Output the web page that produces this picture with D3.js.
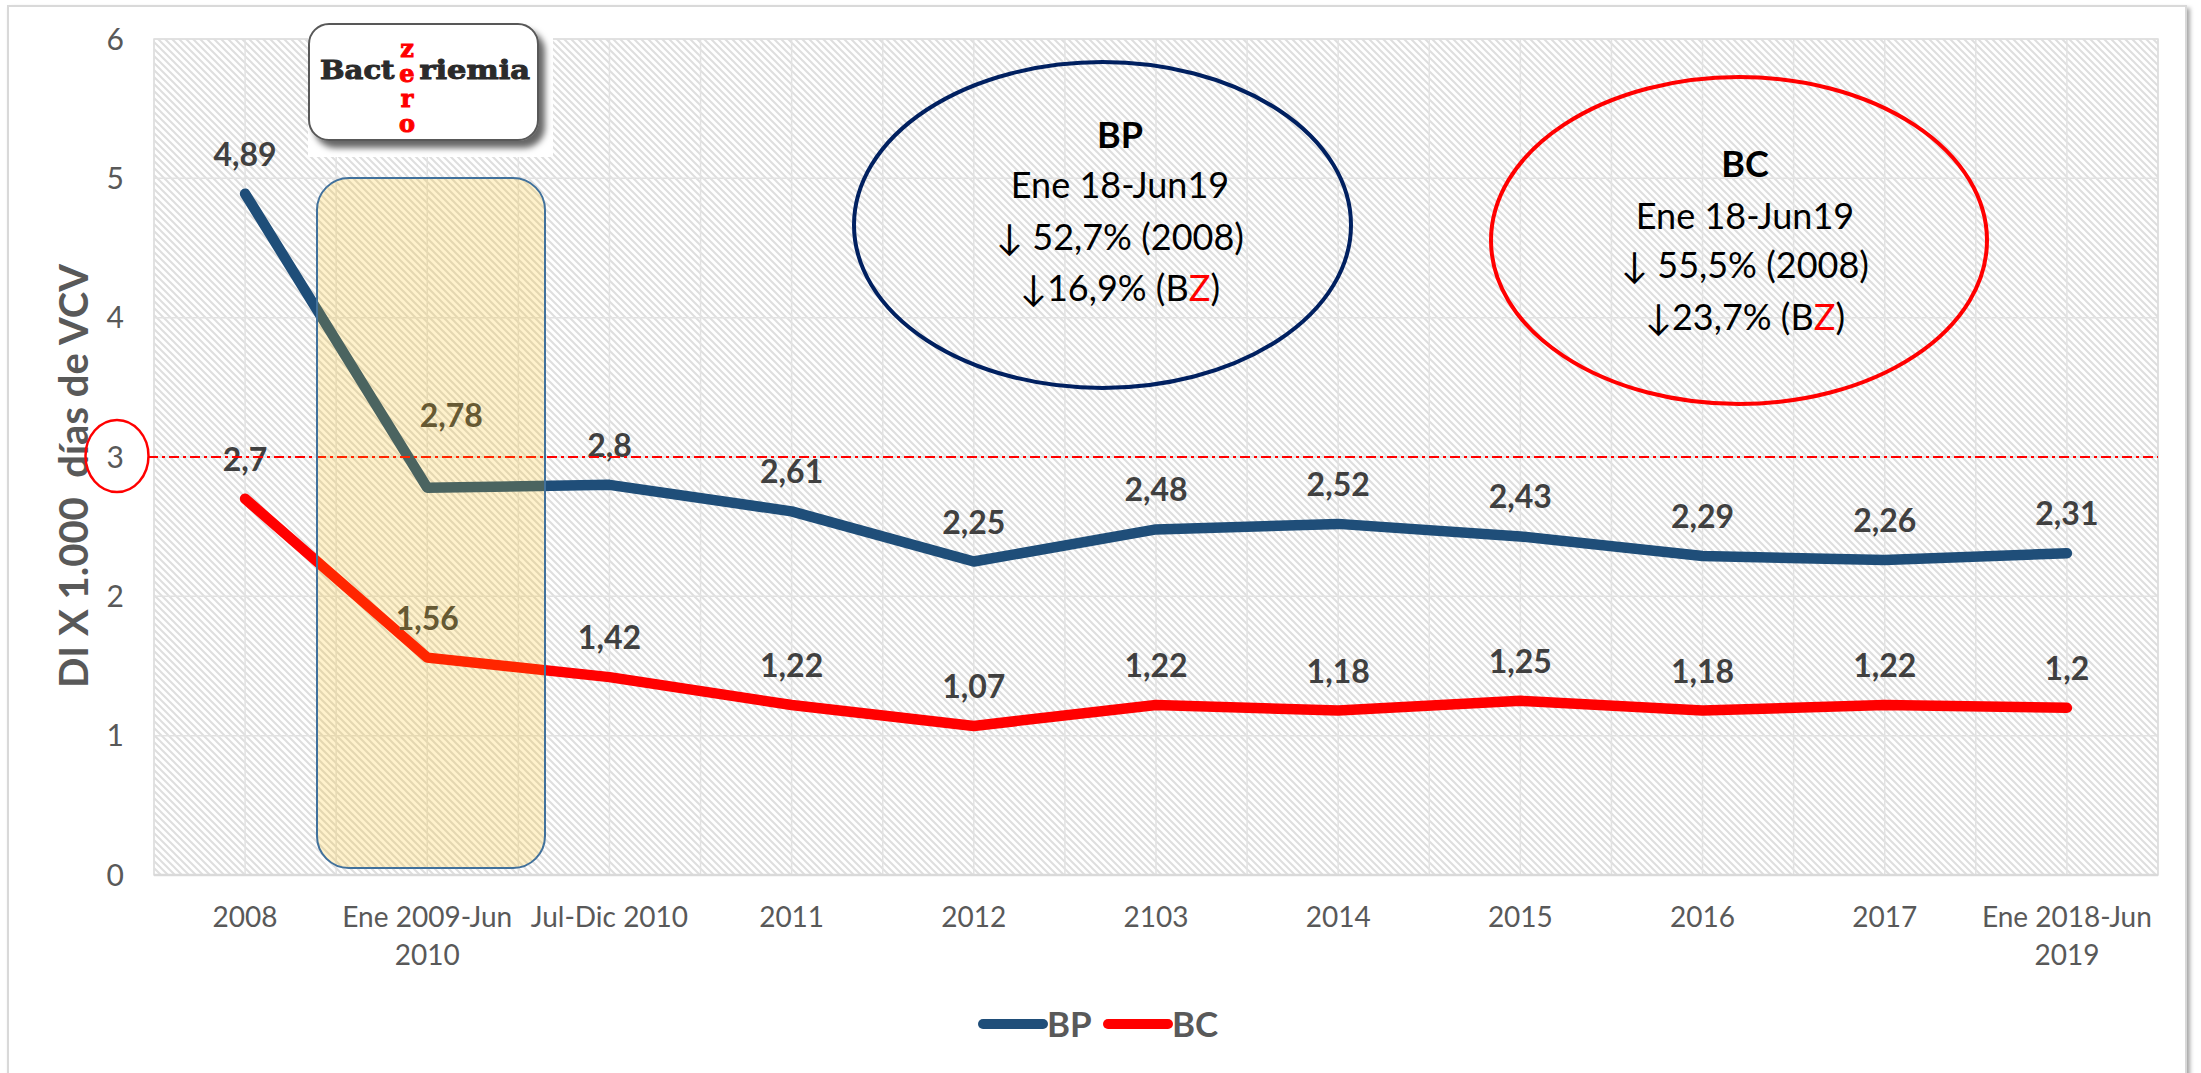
<!DOCTYPE html>
<html>
<head>
<meta charset="utf-8">
<script src="https://cdn.jsdelivr.net/npm/d3@7"></script>
<style>
    body { margin: 0; background: #fff; }
    svg { display: block; font-family: Lato, "Open Sans", sans-serif; }
</style>
</head>
<body>
<svg id="chart" width="2201" height="1073"></svg>
<script>
// data
const categories = ["2008", "Ene 2009-Jun 2010", "Jul-Dic 2010", "2011", "2012", "2103",
    "2014", "2015", "2016", "2017", "Ene 2018-Jun 2019"];
const bpValues = [4.89, 2.78, 2.8, 2.61, 2.25, 2.48, 2.52, 2.43, 2.29, 2.26, 2.31];
const bcValues = [2.7, 1.56, 1.42, 1.22, 1.07, 1.22, 1.18, 1.25, 1.18, 1.22, 1.2];
const yTicks = [0, 1, 2, 3, 4, 5, 6];
const threshold = 3;
const bpNote = ["BP", "Ene 18-Jun19", "↓ 52,7% (2008)", "↓16,9% (B|Z|)"];
const bcNote = ["BC", "Ene 18-Jun19", "↓ 55,5% (2008)", "↓23,7% (B|Z|)"];
const series = [
    {name: "BP", values: bpValues, color: "#1F4E79"},
    {name: "BC", values: bcValues, color: "#FF0000"}
];

const W = 2201, H = 1073;
const plot = {left: 154, right: 2158, top: 39, bottom: 875};

const svg = d3.select('#chart');
const defs = svg.append('defs');

const hatch = defs.append('pattern')
    .attr('id', 'hatch')
    .attr('patternUnits', 'userSpaceOnUse')
    .attr('width', 7)
    .attr('height', 7);
hatch.append('rect').attr('width', 7).attr('height', 7).attr('fill', '#fff');
hatch.append('path')
    .attr('d', 'M-1,-1 L8,8 M-1,6 L1,8 M6,-1 L8,1')
    .attr('stroke', '#dedede')
    .attr('stroke-width', 2);

const frameShadow = defs.append('filter').attr('id', 'frameShadow')
    .attr('x', '-5%').attr('y', '-5%').attr('width', '110%').attr('height', '110%');
frameShadow.append('feDropShadow')
    .attr('dx', 3).attr('dy', 3).attr('stdDeviation', 2)
    .attr('flood-color', '#000').attr('flood-opacity', 0.35);

const logoShadow = defs.append('filter').attr('id', 'logoShadow')
    .attr('x', '-10%').attr('y', '-10%').attr('width', '130%').attr('height', '140%');
logoShadow.append('feDropShadow')
    .attr('dx', 6).attr('dy', 7).attr('stdDeviation', 3)
    .attr('flood-color', '#000').attr('flood-opacity', 0.6);

// outer frame
svg.append('rect')
    .attr('x', 8).attr('y', 6)
    .attr('width', 2178).attr('height', 1110)
    .attr('fill', '#fff')
    .attr('stroke', '#d9d9d9')
    .attr('stroke-width', 2)
    .attr('filter', 'url(#frameShadow)');

const x = d3.scalePoint()
    .domain(categories)
    .range([plot.left, plot.right])
    .padding(0.5);

const y = d3.scaleLinear()
    .domain([0, 6])
    .range([plot.bottom, plot.top]);

const step = x.step();

// plot background
svg.append('rect')
    .attr('x', plot.left).attr('y', plot.top)
    .attr('width', plot.right - plot.left)
    .attr('height', plot.bottom - plot.top)
    .attr('fill', 'url(#hatch)');

// gridlines
const grid = svg.append('g').attr('stroke', '#e2e2e2').attr('stroke-width', 1.5);
const vLines = [];
for (let k = 0; k <= categories.length; k++) vLines.push(plot.left + k * step);
categories.forEach(c => vLines.push(x(c)));
grid.selectAll('.v').data(vLines).enter().append('line')
    .attr('x1', d => d).attr('x2', d => d)
    .attr('y1', plot.top).attr('y2', plot.bottom);
grid.selectAll('.h').data(yTicks).enter().append('line')
    .attr('x1', plot.left).attr('x2', plot.right)
    .attr('y1', d => y(d)).attr('y2', d => y(d));

svg.append('rect')
    .attr('x', plot.left).attr('y', plot.top)
    .attr('width', plot.right - plot.left)
    .attr('height', plot.bottom - plot.top)
    .attr('fill', 'none')
    .attr('stroke', '#dedede')
    .attr('stroke-width', 1.5);

svg.append('line')
    .attr('x1', plot.left).attr('x2', plot.right)
    .attr('y1', plot.bottom).attr('y2', plot.bottom)
    .attr('stroke', '#d9d9d9')
    .attr('stroke-width', 2.5);

// y axis
svg.append('g').selectAll('text').data(yTicks).enter().append('text')
    .attr('x', 124)
    .attr('y', d => y(d))
    .attr('dy', '0.36em')
    .attr('text-anchor', 'end')
    .style('font-size', '30px')
    .style('fill', '#595959')
    .text(d => d);

svg.append('text')
    .attr('transform', 'translate(88,476) rotate(-90)')
    .attr('text-anchor', 'middle')
    .style('font-size', '40px')
    .style('font-weight', 'bold')
    .style('fill', '#595959')
    .style('white-space', 'pre')
    .text('DI X 1.000  días de VCV');

// x axis labels, wrapped like excel does
const xLab = svg.append('g');
categories.forEach(c => {
    const t = xLab.append('text')
        .attr('x', x(c))
        .attr('y', 927)
        .attr('text-anchor', 'middle')
        .style('font-size', '28px')
        .style('fill', '#595959')
        .text(c);
    if (t.node().getComputedTextLength() > step - 4) {
        const words = c.split(' ');
        t.text(null);
        t.append('tspan').attr('x', x(c)).text(words.slice(0, -1).join(' '));
        t.append('tspan').attr('x', x(c)).attr('dy', 38).text(words.slice(-1).join(' '));
    }
});

// threshold marker
svg.append('ellipse')
    .attr('cx', 117).attr('cy', y(threshold) - 1)
    .attr('rx', 31.5).attr('ry', 36)
    .attr('fill', 'none')
    .attr('stroke', '#ff0000')
    .attr('stroke-width', 2.5);

// lines
const line = d3.line()
    .x((d, i) => x(categories[i]))
    .y(d => y(d));

series.forEach(s => {
    svg.append('path')
        .datum(s.values)
        .attr('d', line)
        .attr('fill', 'none')
        .attr('stroke', s.color)
        .attr('stroke-width', 10.5)
        .attr('stroke-linejoin', 'round')
        .attr('stroke-linecap', 'round');
});

// data labels (2,78 was moved by hand in the original)
const labelShift = {"BP-1": [24, -33]};
series.forEach(s => {
    svg.append('g').selectAll('text').data(s.values).enter().append('text')
        .attr('x', (d, i) => x(categories[i]) + (labelShift[s.name + '-' + i] || [0, 0])[0])
        .attr('y', (d, i) => y(d) - 28 + (labelShift[s.name + '-' + i] || [0, 0])[1])
        .attr('text-anchor', 'middle')
        .style('font-size', '32px')
        .style('font-weight', 'bold')
        .style('fill', '#404040')
        .text(d => String(d).replace('.', ','));
});

svg.append('line')
    .attr('x1', 148).attr('x2', plot.right)
    .attr('y1', y(threshold)).attr('y2', y(threshold))
    .attr('stroke', '#ff0000')
    .attr('stroke-width', 2.2)
    .attr('stroke-dasharray', '10,4,3,4');

// Bacteriemia Zero period box
svg.append('rect')
    .attr('x', 317).attr('y', 178)
    .attr('width', 228).attr('height', 690)
    .attr('rx', 32)
    .attr('fill', '#FFC000')
    .attr('fill-opacity', 0.2)
    .attr('stroke', '#41719C')
    .attr('stroke-width', 2);

// notes in ellipses
function note(lines, cx, cy, rx, ry, color, tx, baselines) {
    svg.append('ellipse')
        .attr('cx', cx).attr('cy', cy)
        .attr('rx', rx).attr('ry', ry)
        .attr('fill', 'none')
        .attr('stroke', color)
        .attr('stroke-width', 4);
    lines.forEach((l, i) => {
        const t = svg.append('text')
            .attr('x', tx)
            .attr('y', baselines[i])
            .attr('text-anchor', 'middle')
            .style('font-size', '36px')
            .style('font-weight', i === 0 ? 'bold' : 'normal')
            .style('fill', '#000')
            .style('white-space', 'pre');
        l.split('|').forEach((p, j) => {
            t.append('tspan').style('fill', j === 1 ? '#ff0000' : '#000').text(p);
        });
    });
}
note(bpNote, 1102.5, 225, 248.5, 163, '#002060', 1120, [148, 198, 250, 301]);
note(bcNote, 1739, 240.5, 248, 163.5, '#ff0000', 1745, [177, 229, 278, 330]);

// logo
const logo = svg.append('g')
    .style('font-family', '"DejaVu Serif", serif')
    .style('font-weight', 'bold')
    .style('font-size', '26px');
logo.append('rect')
    .attr('x', 308).attr('y', 38)
    .attr('width', 245).attr('height', 119)
    .attr('fill', '#fff');
logo.append('rect')
    .attr('x', 309).attr('y', 24)
    .attr('width', 229).attr('height', 116)
    .attr('rx', 20)
    .attr('fill', '#fff')
    .attr('stroke', '#595959')
    .attr('stroke-width', 2)
    .attr('filter', 'url(#logoShadow)');
logo.append('text')
    .attr('x', 320).attr('y', 79)
    .attr('textLength', 74.5)
    .attr('lengthAdjust', 'spacingAndGlyphs')
    .style('fill', '#2b2b2b').style('stroke', '#2b2b2b').style('stroke-width', 1)
    .text('Bact');
logo.append('text')
    .attr('x', 419.5).attr('y', 79)
    .attr('textLength', 110.5)
    .attr('lengthAdjust', 'spacingAndGlyphs')
    .style('fill', '#2b2b2b').style('stroke', '#2b2b2b').style('stroke-width', 1)
    .text('riemia');
// "zero" written downwards, crossing the word at its "e"
const zero = logo.append('text')
    .attr('x', 407).attr('y', 0)
    .style('writing-mode', 'vertical-lr')
    .style('text-orientation', 'upright')
    .style('font-size', '24px')
    .style('letter-spacing', '-4px')
    .style('fill', '#ff0000').style('stroke', '#ff0000').style('stroke-width', 1)
    .text('zero');
const zb = zero.node().getBBox();
zero.attr('y', 84 - zb.height / 2 - zb.y);
const zb2 = zero.node().getBBox();
zero.attr('x', 407 + (407 - (zb2.x + zb2.width / 2)));

// legend
const legend = svg.append('g');
const legendPos = [{x: 983, tx: 1047}, {x: 1108, tx: 1172}];
series.forEach((s, i) => {
    legend.append('line')
        .attr('x1', legendPos[i].x).attr('x2', legendPos[i].x + 60)
        .attr('y1', 1024).attr('y2', 1024)
        .attr('stroke', s.color)
        .attr('stroke-width', 10)
        .attr('stroke-linecap', 'round');
    legend.append('text')
        .attr('x', legendPos[i].tx).attr('y', 1037)
        .style('font-size', '35px')
        .style('font-weight', 'bold')
        .style('fill', '#595959')
        .text(s.name);
});
</script>
</body>
</html>
